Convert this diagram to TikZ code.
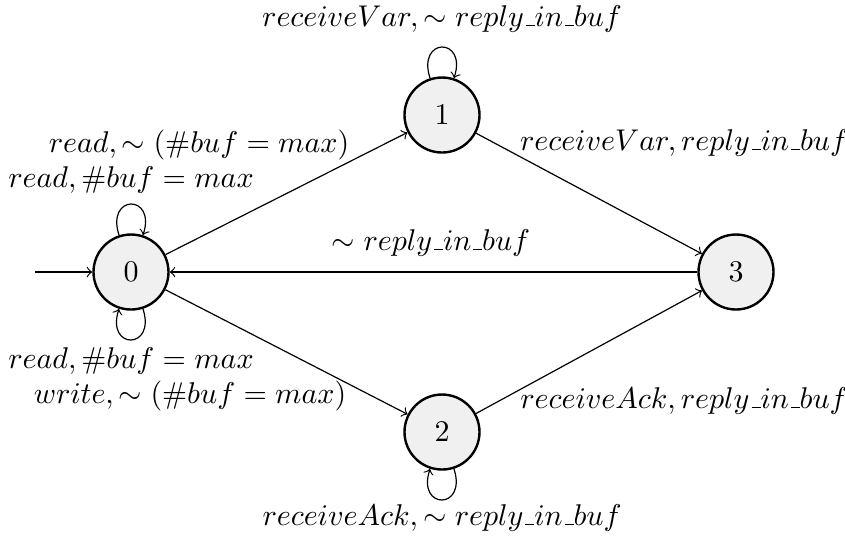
\documentclass[tikz,border=0pt]{standalone}
\usetikzlibrary{automata,arrows.meta}
\newcommand\usc{\mbox{\kern.06em\vbox{\hrule width.3em}}}
\begin{document}
\begin{tikzpicture}[x=0.33333pt,y=-0.33333pt,
  stnode/.style={circle,draw,thick,fill=gray!12,minimum size=25pt,inner sep=0pt},
  lbl/.style={anchor=base,inner sep=0pt},
  loopup/.style={out=108,in=72,looseness=1,min distance=14.5pt},
  loopdown/.style={out=-72,in=-108,looseness=1,min distance=14.5pt},
  >=to]
\useasboundingbox (0,0) rectangle (845,545);
\node[stnode] (s0) at (131,272) {$0$};
\node[stnode] (s1) at (442,115) {$1$};
\node[stnode] (s2) at (442,432) {$2$};
\node[stnode] (s3) at (736,272) {$3$};
\coordinate (init) at (35,272);

\draw[->] (init) -- (s0);
\draw[->] (s0) -- (s1);
\draw[->] (s0) -- (s2);
\draw[->] (s1) -- (s3);
\draw[->] (s2) -- (s3);
\draw[->] (s3) -- (s0);
\draw[->] (s0) to[loopup] (s0);
\draw[->] (s0) to[loopdown] (s0);
\draw[->] (s1) to[loopup] (s1);
\draw[->] (s2) to[loopdown] (s2);

\node[lbl] (l1top) at (442,26) {$receiveVar, \sim reply\usc in\usc buf$};
\node[lbl] (l2bot) at (442,525) {$receiveAck, \sim reply\usc in\usc buf$};
\node[lbl] (l01) at (199,152) {$read, \sim (\#buf = max)$};
\node[lbl] (l00a) at (131,187) {$read, \#buf = max$};
\node[lbl] (l00b) at (131,368) {$read, \#buf = max$};
\node[lbl] (l02) at (190,403) {$write, \sim (\#buf = max)$};
\node[lbl] (l13) at (684,150) {$receiveVar, reply\usc in\usc buf$};
\node[lbl] (l23) at (684,408) {$receiveAck, reply\usc in\usc buf$};
\node[lbl] (l30) at (431,250) {$\sim reply\usc in\usc buf$};
\end{tikzpicture}
\end{document}
